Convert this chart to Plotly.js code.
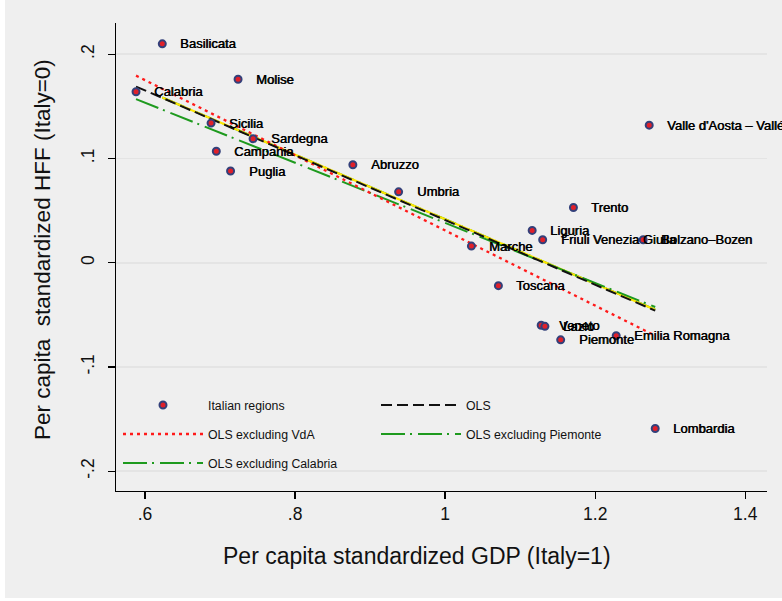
<!DOCTYPE html>
<html>
<head>
<meta charset="utf-8">
<script src="https://cdn.plot.ly/plotly-3.0.1.min.js"></script>
<style>html,body{margin:0;padding:0;background:#fff;}#chart{width:782px;height:601px;}</style>
</head>
<body>
<div id="chart"></div>
<script>
// Regions: per capita standardized GDP (Italy=1) and HFF (Italy=0)
var regions = ["Basilicata","Molise","Calabria","Sicilia","Sardegna","Campania","Puglia","Abruzzo","Umbria",
  "Valle d'Aosta \u2013 Vall\u00e9e d'Aoste","Trento","Liguria","Friuli Venezia Giulia","Bolzano\u2013Bozen","Marche",
  "Toscana","Veneto","Lazio","Piemonte","Emilia Romagna","Lombardia"];
var gdp = [0.623,0.724,0.588,0.688,0.744,0.695,0.714,0.877,0.938,
  1.272,1.171,1.116,1.130,1.264,1.035,
  1.071,1.128,1.133,1.154,1.228,1.280];
var hff = [0.210,0.176,0.164,0.134,0.119,0.107,0.088,0.094,0.068,
  0.132,0.053,0.031,0.022,0.022,0.016,
  -0.022,-0.060,-0.061,-0.074,-0.070,-0.159];

// Fitted lines (end points)
var olsX = [0.588, 1.280];           var olsY = [0.169, -0.046];
var exVdaX = [0.588, 1.280];         var exVdaY = [0.1795, -0.070];
var exPiemonteX = [0.588, 1.280];    var exPiemonteY = [0.157, -0.0425];
var exCalabriaX = [0.623, 1.280];    var exCalabriaY = [0.1585, -0.045];

var xTickVals = [0.6, 0.8, 1, 1.2, 1.4];
var xTickText = [".6", ".8", "1", "1.2", "1.4"];
var yTickVals = [-0.2, -0.1, 0, 0.1, 0.2];
var yTickText = ["-.2", "-.1", "0", ".1", ".2"];

var xTitle = "Per capita standardized GDP (Italy=1)";
var yTitle = "Per capita\u00a0 standardized HFF (Italy=0)";

var FONT = "Liberation Sans, Arial, Helvetica, sans-serif";

var traces = [
  {x: exCalabriaX, y: exCalabriaY, mode: "lines", name: "OLS excluding Calabria",
   line: {color: "#1e9a1e", width: 2, dash: "24px,5px,2px,6px"}, legend: "legend3", hoverinfo: "skip"},
  {x: exCalabriaX, y: exCalabriaY, mode: "lines", name: "OLS excluding Calabria ",
   line: {color: "#ffe800", width: 2.2}, showlegend: false, hoverinfo: "skip"},
  {x: exPiemonteX, y: exPiemonteY, mode: "lines", name: "OLS excluding Piemonte",
   line: {color: "#1e9a1e", width: 2, dash: "24px,5px,2px,6px"}, legend: "legend2", legendrank: 2, hoverinfo: "skip"},
  {x: exVdaX, y: exVdaY, mode: "lines", name: "OLS excluding VdA",
   line: {color: "#ff1a1a", width: 2.3, dash: "3px,4px"}, legend: "legend2", legendrank: 1, hoverinfo: "skip"},
  {x: olsX, y: olsY, mode: "lines", name: "OLS",
   line: {color: "#111111", width: 2, dash: "11px,5px"}, legend: "legend", legendrank: 2, hoverinfo: "skip"},
  {x: gdp, y: hff, mode: "markers", name: "Italian regions", text: regions,
   marker: {size: 7, color: "#e0202a", line: {color: "#33407a", width: 2}},
   legend: "legend", legendrank: 1}
];

var annotations = regions.map(function (r, i) {
  return {x: gdp[i], y: hff[i], xref: "x", yref: "y", text: r, showarrow: false,
          xanchor: "left", yanchor: "middle", xshift: 16,
          font: {family: FONT, size: 13, color: "#000", shadow: "0.6px 0 0 #000"}};
});
// axis titles (placed as in the reference: slightly off the plot-area centre)
annotations.push({text: xTitle, xref: "paper", yref: "paper", x: (417 - 116) / 651, y: (491 - 556) / 468,
  xanchor: "center", yanchor: "middle", showarrow: false, font: {family: FONT, size: 23, color: "#111"}});
annotations.push({text: yTitle, xref: "paper", yref: "paper", x: (42 - 116) / 651, y: (491 - 250) / 468,
  xanchor: "center", yanchor: "middle", textangle: -90, showarrow: false, font: {family: FONT, size: 22.5, color: "#111"}});

var legendBase = {orientation: "h", xanchor: "left", yanchor: "middle", x: 2 / 651,
  bgcolor: "rgba(0,0,0,0)", borderwidth: 0, itemwidth: 80,
  entrywidth: 163, entrywidthmode: "pixels",
  font: {family: FONT, size: 12.3, color: "#111"}, traceorder: "normal"};

function leg(y) { var o = JSON.parse(JSON.stringify(legendBase)); o.y = y; return o; }

var layout = {
  width: 782, height: 601,
  margin: {l: 116, r: 15, t: 23, b: 110},
  paper_bgcolor: "#ffffff",
  plot_bgcolor: "#ffffff",
  font: {family: FONT, color: "#111"},
  showlegend: true,
  legend: leg(0.1838),
  legend2: leg(0.1218),
  legend3: leg(0.0598),
  xaxis: {range: [0.5613, 1.429], tickvals: xTickVals, ticktext: xTickText,
    ticks: "outside", ticklen: 7, tickwidth: 1.3, tickcolor: "#000",
    showline: true, linecolor: "#000", linewidth: 1.3, showgrid: false, zeroline: false,
    tickfont: {family: FONT, size: 17.5, color: "#111"}},
  yaxis: {range: [-0.219, 0.230], tickvals: yTickVals, ticktext: yTickText, tickangle: -90,
    ticks: "outside", ticklen: 7, tickwidth: 1.3, tickcolor: "#000", ticklabelstandoff: 7,
    showline: true, linecolor: "#000", linewidth: 1.3, showgrid: true, gridcolor: "#e4e4e4", gridwidth: 1.6,
    zeroline: false,
    tickfont: {family: FONT, size: 17.5, color: "#111"}},
  annotations: annotations,
  shapes: [
    {type: "rect", xref: "paper", yref: "paper", x0: (5 - 116) / 651, x1: (782 - 116) / 651,
     y0: (491 - 598) / 468, y1: (491 - 0) / 468, fillcolor: "#efefef", line: {width: 0}, layer: "below"}
  ]
};

Plotly.newPlot("chart", traces, layout, {displayModeBar: false, staticPlot: true});
</script>
</body>
</html>
